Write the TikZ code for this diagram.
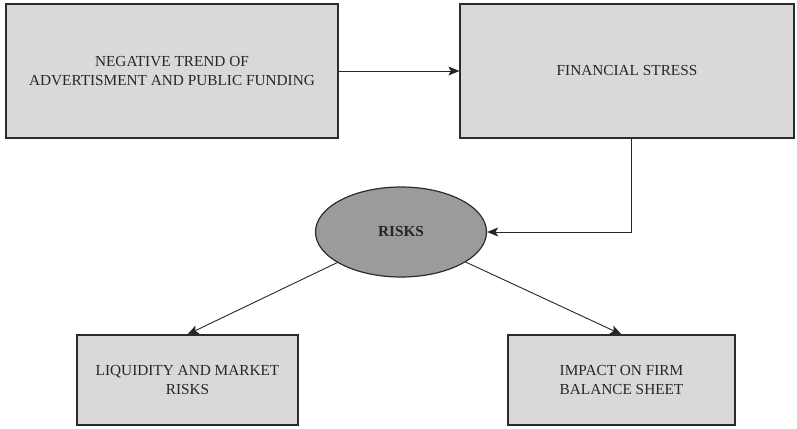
\documentclass[tikz,border=0pt]{standalone}
\usepackage{fontspec}
\setmainfont{Liberation Serif}
\usetikzlibrary{shapes.geometric,arrows.meta}
\definecolor{boxfill}{HTML}{D9D9D9}
\definecolor{ellfill}{HTML}{9B9B9B}
\definecolor{edge}{HTML}{2B2B2B}
\begin{document}
\begin{tikzpicture}[x=1pt,y=-1pt,
  box/.style={draw=edge, line width=1.2pt, fill=boxfill, rectangle, inner sep=0pt,
    align=center, font=\fontsize{15.3}{19.5}\selectfont, text=black!85},
  conn/.style={draw=black!85, line width=0.9pt, -{Stealth[length=11pt,width=9pt,inset=2.5pt]}}]
\useasboundingbox (0,0) rectangle (797,428);
\node[box, minimum width=332pt, minimum height=134pt] (b1) at (172,71)
  {NEGATIVE TREND OF\\ADVERTISMENT AND PUBLIC FUNDING};
\node[box, minimum width=334pt, minimum height=134pt] (b2) at (627,71)
  {FINANCIAL STRESS};
\node[draw=edge, line width=1.2pt, fill=ellfill, ellipse, inner sep=0pt,
  minimum width=171pt, minimum height=90pt,
  font=\bfseries\fontsize{15.3}{19.5}\selectfont, text=black!85] (risk) at (401,232) {RISKS};
\node[box, minimum width=221pt, minimum height=90pt] (b3) at (187.5,380)
  {LIQUIDITY AND MARKET\\RISKS};
\node[box, minimum width=227pt, minimum height=90pt] (b4) at (621.5,380)
  {IMPACT ON FIRM\\BALANCE SHEET};
\draw[conn] (b1.east) -- (b2.west);
\draw[conn] ([xshift=4pt]b2.south) |- (risk.east);
\draw[conn] (risk) -- (b3.north);
\draw[conn] (risk) -- (b4.north);
\end{tikzpicture}
\end{document}
